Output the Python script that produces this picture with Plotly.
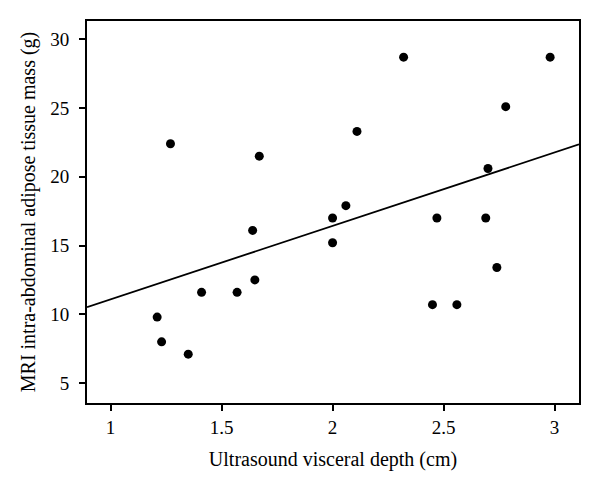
import plotly.graph_objects as go

# Data
depth_cm = [1.21, 1.23, 1.35, 1.41, 1.57, 1.65, 1.27, 1.67, 1.64, 2.32, 2.98,
            2.78, 2.11, 2.70, 2.06, 2.00, 2.47, 2.69, 2.00, 2.45, 2.56, 2.74]
mass_g = [9.8, 8.0, 7.1, 11.6, 11.6, 12.5, 22.4, 21.5, 16.1, 28.7, 28.7,
          25.1, 23.3, 20.6, 17.9, 17.0, 17.0, 17.0, 15.2, 10.7, 10.7, 13.4]

# Fitted line coefficients
fit_slope = 5.34
fit_intercept = 5.75

x_range = [0.894, 3.11]
y_range = [3.55, 31.33]
x_ticks = [1, 1.5, 2, 2.5, 3]
x_ticklabels = ["1", "1.5", "2", "2.5", "3"]
y_ticks = [5, 10, 15, 20, 25, 30]

font_family = "Liberation Serif"

fig = go.Figure()
fig.add_trace(go.Scatter(
    x=x_range,
    y=[fit_intercept + fit_slope * v for v in x_range],
    mode="lines",
    line=dict(color="black", width=1.8),
    showlegend=False,
    hoverinfo="skip",
))
fig.add_trace(go.Scatter(
    x=depth_cm, y=mass_g, mode="markers",
    marker=dict(color="black", size=9),
    showlegend=False,
))

axis_common = dict(
    showgrid=False, zeroline=False, automargin=False,
    showline=True, linecolor="black", linewidth=1.8, mirror=True,
    ticks="outside", ticklen=6, tickwidth=1.5, tickcolor="black",
    tickfont=dict(family=font_family, size=19, color="black"),
)

fig.update_xaxes(range=x_range, tickvals=x_ticks, ticktext=x_ticklabels,
                 title=dict(text="Ultrasound visceral depth (cm)",
                            font=dict(family=font_family, size=20, color="black"),
                            standoff=15),
                 **axis_common)
fig.update_yaxes(range=y_range, tickvals=y_ticks, ticklabelstandoff=6,
                 title=dict(text="MRI intra-abdominal adipose tissue mass (g)",
                            font=dict(family=font_family, size=20, color="black"),
                            standoff=9),
                 **axis_common)

fig.update_layout(
    width=600, height=494,
    margin=dict(l=78.5, r=29.3, t=12.7, b=98.7),
    plot_bgcolor="white", paper_bgcolor="white",
    font=dict(family=font_family, color="black"),
)

fig.write_html("out.html")
